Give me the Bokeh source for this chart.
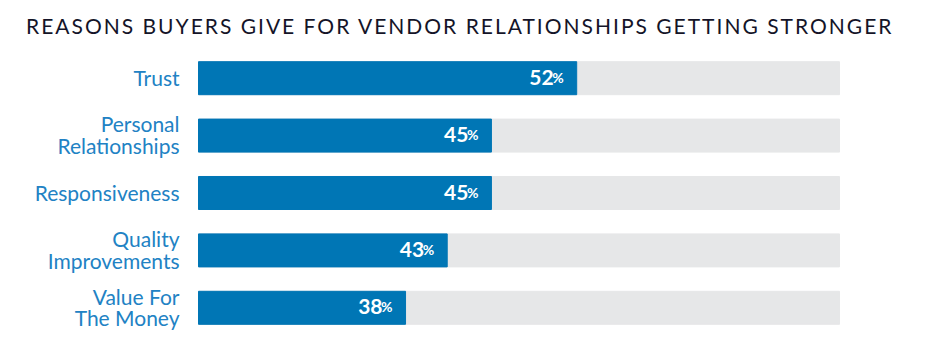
from bokeh.plotting import figure
from bokeh.models import FactorRange, Range1d, ColumnDataSource, Div
from bokeh.layouts import column
from bokeh.core.properties import value
from bokeh.embed import file_html
from bokeh.resources import INLINE

chart_title = "REASONS BUYERS GIVE FOR VENDOR RELATIONSHIPS GETTING STRONGER"
reasons = ["Trust", "Personal Relationships", "Responsiveness",
           "Quality Improvements", "Value For The Money"]
reason_labels = ["Trust", "Personal\nRelationships", "Responsiveness",
                 "Quality\nImprovements", "Value For\nThe Money"]
shares = [52, 45, 45, 43, 38]              # labelled percentages
drawn = [59.0, 45.7, 45.7, 38.8, 32.3]     # blue fill as drawn, % of grey track
track = [100, 100, 100, 100, 100]

src = ColumnDataSource(dict(
    reason=reasons,
    label=reason_labels,
    num=[str(s) for s in shares],
    pct=["%"] * len(shares),
    drawn=drawn,
    track=track,
    zero=[0] * len(shares),
))

W = 934
TITLE_H = 49
PLOT_H = 345 - TITLE_H
TRACK_LEFT, TRACK_RIGHT = 198, 839
px_per_unit = (TRACK_RIGHT - TRACK_LEFT) / 100.0

title_div = Div(
    text=('<div style="font-family: Lato; font-size: 21px; line-height: 25px; '
          'letter-spacing: 2px; color: #141428; padding: 13px 0 0 26px; '
          'white-space: nowrap; margin: 0;">' + chart_title + '</div>'),
    width=W, height=TITLE_H, margin=(0, 0, 0, 0))

p = figure(width=W, height=PLOT_H,
           x_range=Range1d(-TRACK_LEFT / px_per_unit, 100 + (W - TRACK_RIGHT) / px_per_unit),
           y_range=FactorRange(factors=list(reversed(reasons)), range_padding=0),
           output_backend="svg", toolbar_location=None,
           min_border_left=0, min_border_right=0,
           min_border_top=0, min_border_bottom=9, margin=(0, 0, 0, 0))

p.hbar(y="reason", left="zero", right="track", height=0.575,
       color="#E6E7E8", source=src)
p.hbar(y="reason", left="zero", right="drawn", height=0.575,
       color="#0076B5", source=src)

p.text(x="zero", y="reason", text="label", source=src,
       text_font=value("Lato"), text_font_size="21px",
       text_color="#2182C4", text_align="right", text_baseline="middle",
       text_line_height=0.85, x_offset=-19, y_offset=-1)

p.text(x="drawn", y="reason", text="num", source=src,
       text_font=value("Lato"), text_font_size="21px", text_font_style="bold",
       text_color="white", text_align="right", text_baseline="alphabetic",
       x_offset=-23, y_offset=-1)
p.text(x="drawn", y="reason", text="pct", source=src,
       text_font=value("Lato"), text_font_size="14px", text_font_style="bold",
       text_color="white", text_align="right", text_baseline="alphabetic",
       x_offset=-13, y_offset=-1)

p.axis.visible = False
p.xgrid.visible = False
p.ygrid.visible = False
p.outline_line_color = None
p.background_fill_color = "white"
p.border_fill_color = "white"

layout = column(title_div, p, spacing=0, margin=(0, 0, 0, 0))

open("out.html", "w").write(file_html(layout, INLINE))
